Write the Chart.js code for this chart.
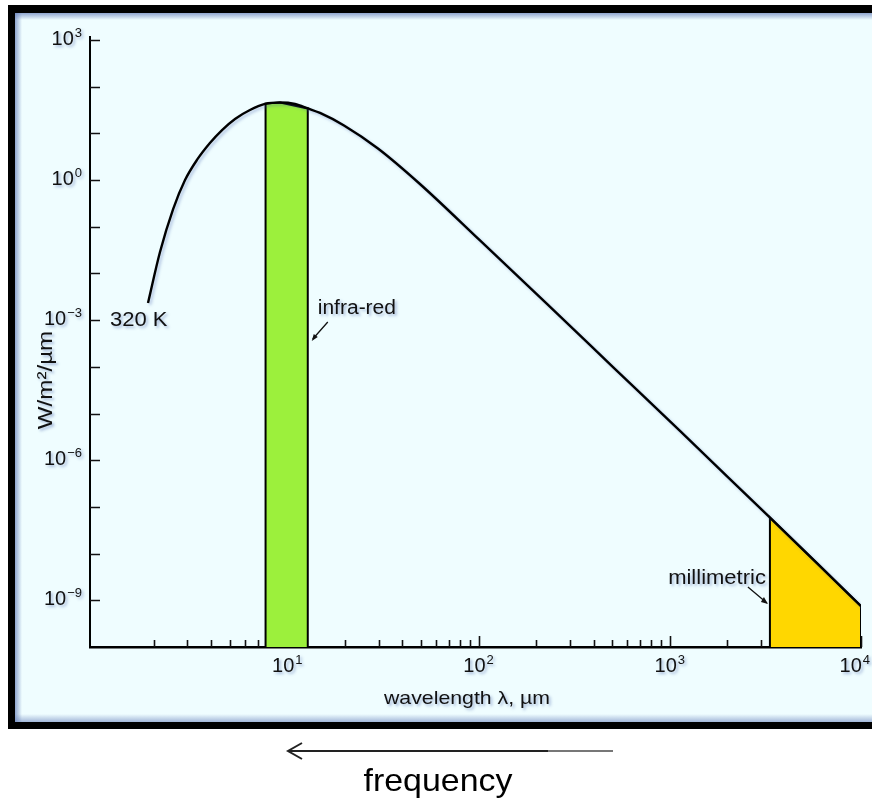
<!DOCTYPE html>
<html lang="en">
<head>
<meta charset="UTF-8">
<title>320 K blackbody spectrum</title>
<script src="https://cdn.jsdelivr.net/npm/chart.js"></script>
<style>
  html, body { margin: 0; padding: 0; background: #fff; }
  #spectrum { display: block; }
</style>
</head>
<body>
<canvas id="spectrum" width="872" height="802"></canvas>
<script>
// spectral exitance of a 320 K body
// wavelength in µm, exitance in W/m²/µm
const wavelength = [1.87, 2.16, 2.53, 2.92, 3.37, 3.94, 4.56, 5.33, 6.38, 7.64, 9.16, 10.97, 12.83,
                    14.83, 19.8, 29.8, 49.4, 101.8, 228, 505, 1131, 2064, 3262, 5885, 10000];
const exitance = [2.33e-3, 0.0288, 0.240, 1.005, 2.70, 6.23, 11.8, 20.4, 31.7, 42.7, 45.9, 42.7, 34.2,
                  27.4, 14.8, 4.75, 0.825, 0.0509, 2.22e-3, 9.9e-5, 4.23e-6, 3.96e-7, 6.49e-8, 6.24e-9, 7.5e-10];

// shaded bands, outline runs up the left edge, along the curve, down the right edge
const irWavelength = [7.7, 7.7, 9.16, 12.8, 12.8];
const irExitance = [1e-10, 43.5, 45.9, 34.3, 1e-10];
const mmWavelength = [3340, 3340, 5885, 10000, 10000];
const mmExitance = [1e-10, 5.9e-8, 6.24e-9, 7.5e-10, 1e-10];

// decades that carry a label
const xLabelExp = [1, 2, 3, 4];
const yLabelExp = [3, 0, -3, -6, -9];

const FONT = '"Liberation Sans", Arial, sans-serif';

function pts(xs, ys) {
    return xs.map((x, i) => ({ x: x, y: ys[i] }));
}

function shadowOn(ctx) {
    ctx.shadowColor = 'rgba(70, 100, 170, 0.45)';
    ctx.shadowBlur = 3;
    ctx.shadowOffsetX = 2;
    ctx.shadowOffsetY = 2;
}

function text(ctx, str, x, y, size, align, sx) {
    ctx.save();
    ctx.font = size + 'px ' + FONT;
    ctx.fillStyle = '#111';
    ctx.textAlign = align;
    ctx.textBaseline = 'alphabetic';
    shadowOn(ctx);
    ctx.translate(x, y);
    ctx.scale(sx || 1, 1);
    ctx.fillText(str, 0, 0);
    ctx.restore();
}

// "10" with a raised exponent
function power(ctx, exp, x, y, align, maxRight) {
    const e = exp < 0 ? '\u2212' + (-exp) : String(exp);
    ctx.save();
    ctx.fillStyle = '#111';
    shadowOn(ctx);
    ctx.font = '20px ' + FONT;
    const w1 = ctx.measureText('10').width;
    ctx.font = '13px ' + FONT;
    const w2 = ctx.measureText(e).width;
    const total = w1 + 1 + w2;
    let left = align === 'right' ? x - total : x - total / 2;
    if (maxRight && left + total > maxRight) left = maxRight - total;
    ctx.textAlign = 'left';
    ctx.font = '20px ' + FONT;
    ctx.fillText('10', left, y);
    ctx.font = '13px ' + FONT;
    ctx.fillText(e, left + w1 + 1, y - 8);
    ctx.restore();
}

const frame = {
    id: 'frame',
    beforeDraw(chart) {
        const ctx = chart.ctx;
        ctx.save();
        ctx.fillStyle = '#fff';
        ctx.fillRect(0, 0, chart.width, chart.height);
        ctx.fillStyle = '#000';
        ctx.fillRect(8, 5, 880, 724);
        ctx.fillStyle = '#effdff';
        ctx.fillRect(15, 13, 880, 709);
        // soft inner shading along the border
        let g = ctx.createLinearGradient(15, 0, 22, 0);
        g.addColorStop(0, 'rgba(110, 135, 190, 0.75)');
        g.addColorStop(1, 'rgba(110, 135, 190, 0)');
        ctx.fillStyle = g;
        ctx.fillRect(15, 13, 7, 709);
        g = ctx.createLinearGradient(0, 13, 0, 20);
        g.addColorStop(0, 'rgba(110, 135, 190, 0.75)');
        g.addColorStop(1, 'rgba(110, 135, 190, 0)');
        ctx.fillStyle = g;
        ctx.fillRect(15, 13, 880, 7);
        g = ctx.createLinearGradient(0, 714, 0, 722);
        g.addColorStop(0, 'rgba(110, 135, 190, 0)');
        g.addColorStop(1, 'rgba(110, 135, 190, 0.6)');
        ctx.fillStyle = g;
        ctx.fillRect(15, 714, 880, 8);
        ctx.restore();
    },
    beforeDatasetsDraw(chart) {
        // tick marks pointing into the plot, drawn under the bands
        const ctx = chart.ctx;
        const xs = chart.scales.x, ys = chart.scales.y;
        const a = chart.chartArea;
        ctx.save();
        ctx.strokeStyle = '#111';
        ctx.lineWidth = 1.6;
        ctx.beginPath();
        xs.ticks.forEach(t => {
            const px = Math.round(xs.getPixelForValue(t.value)) + 0.5;
            const major = Math.abs(Math.log10(t.value) - Math.round(Math.log10(t.value))) < 1e-6;
            ctx.moveTo(px, a.bottom);
            ctx.lineTo(px, a.bottom - (major ? 11 : 7));
        });
        ys.ticks.forEach(t => {
            const py = Math.round(ys.getPixelForValue(t.value)) + 0.5;
            if (py > a.bottom - 3) return;
            ctx.moveTo(a.left, py);
            ctx.lineTo(a.left + 10, py);
        });
        ctx.stroke();
        ctx.restore();
    },
    beforeDatasetDraw(chart, args) {
        if (args.index === 0) {
            chart.ctx.save();
            chart.ctx.shadowColor = 'rgba(60, 90, 170, 0.35)';
            chart.ctx.shadowBlur = 3;
            chart.ctx.shadowOffsetX = 2;
            chart.ctx.shadowOffsetY = 2;
        }
    },
    afterDatasetDraw(chart, args) {
        if (args.index === 0) chart.ctx.restore();
    },
    afterDraw(chart) {
        const ctx = chart.ctx;
        const xs = chart.scales.x, ys = chart.scales.y;
        const a = chart.chartArea;

        yLabelExp.forEach(e => {
            power(ctx, e, a.left - 8, ys.getPixelForValue(Math.pow(10, e)) + 5, 'right');
        });
        xLabelExp.forEach(e => {
            power(ctx, e, xs.getPixelForValue(Math.pow(10, e)), a.bottom + 25, 'center', 870);
        });

        text(ctx, 'wavelength \u03bb, \u00b5m', 467, 704, 19, 'center', 1.12);
        ctx.save();
        ctx.translate(52, 380);
        ctx.rotate(-Math.PI / 2);
        text(ctx, 'W/m\u00b2/\u00b5m', 0, 0, 21, 'center', 1.15);
        ctx.restore();

        // annotations next to the curve and the bands
        text(ctx, '320 K', 110, 326, 20, 'left', 1.1);
        const irRight = xs.getPixelForValue(irWavelength[3]);
        text(ctx, 'infra-red', irRight + 10, 314, 20, 'left', 1.05);
        const mmLeft = xs.getPixelForValue(mmWavelength[0]);
        text(ctx, 'millimetric', mmLeft - 4, 584, 20, 'right', 1.1);

        ctx.save();
        ctx.strokeStyle = '#111';
        ctx.fillStyle = '#111';
        ctx.lineWidth = 1.3;
        ctx.beginPath();
        ctx.moveTo(irRight + 20, 322);
        ctx.lineTo(irRight + 5, 339);
        ctx.moveTo(mmLeft - 22, 587);
        ctx.lineTo(mmLeft - 3, 603);
        ctx.stroke();
        ctx.beginPath();
        ctx.moveTo(irRight + 4, 341);
        ctx.lineTo(irRight + 6, 334);
        ctx.lineTo(irRight + 10, 337);
        ctx.fill();
        ctx.beginPath();
        ctx.moveTo(mmLeft - 2, 604);
        ctx.lineTo(mmLeft - 9, 602);
        ctx.lineTo(mmLeft - 6, 597);
        ctx.fill();
        ctx.restore();

        // frequency arrow under the frame
        ctx.save();
        ctx.lineWidth = 2;
        ctx.strokeStyle = '#222';
        ctx.beginPath();
        ctx.moveTo(288, 751);
        ctx.lineTo(548, 751);
        ctx.stroke();
        ctx.strokeStyle = '#777';
        ctx.beginPath();
        ctx.moveTo(548, 751);
        ctx.lineTo(613, 751);
        ctx.stroke();
        ctx.strokeStyle = '#222';
        ctx.beginPath();
        ctx.moveTo(302, 743);
        ctx.lineTo(288, 751);
        ctx.lineTo(302, 759);
        ctx.stroke();
        ctx.restore();
        ctx.save();
        ctx.font = '32px ' + FONT;
        ctx.fillStyle = '#000';
        ctx.textAlign = 'center';
        ctx.translate(438, 791);
        ctx.scale(1.06, 1);
        ctx.fillText('frequency', 0, 0);
        ctx.restore();
    }
};

const ctx = document.getElementById('spectrum').getContext('2d');
new Chart(ctx, {
    type: 'line',
    data: {
        datasets: [{
            data: pts(wavelength, exitance),
            borderColor: '#000',
            borderWidth: 2.4,
            pointRadius: 0,
            cubicInterpolationMode: 'monotone',
            fill: false
        }, {
            data: pts(irWavelength, irExitance),
            borderColor: '#000',
            borderWidth: 2,
            backgroundColor: '#9cf03c',
            pointRadius: 0,
            tension: 0,
            fill: 'start'
        }, {
            data: pts(mmWavelength, mmExitance),
            borderColor: '#000',
            borderWidth: 2,
            backgroundColor: '#ffd700',
            pointRadius: 0,
            tension: 0,
            fill: 'start'
        }]
    },
    options: {
        responsive: false,
        animation: false,
        layout: { padding: { left: 0, top: 37, right: 11, bottom: 95 } },
        plugins: { legend: { display: false }, tooltip: { enabled: false } },
        scales: {
            x: {
                type: 'logarithmic',
                min: 0.93,
                max: 10000,
                grid: { display: false },
                border: { color: '#000', width: 2.5 },
                ticks: { display: false },
                afterBuildTicks: axis => {
                    const t = [];
                    for (let d = 1; d <= 1000; d *= 10) {
                        for (let m = 2; m <= 10; m++) t.push({ value: m * d });
                    }
                    axis.ticks = t;
                },
                afterFit: axis => { axis.height = 60; }
            },
            y: {
                type: 'logarithmic',
                min: 1e-10,
                max: 1160,
                grid: { display: false },
                border: { color: '#000', width: 2 },
                ticks: { display: false },
                afterBuildTicks: axis => {
                    const t = [];
                    for (let e = -10; e <= 3; e++) t.push({ value: Math.pow(10, e) });
                    axis.ticks = t;
                },
                afterFit: axis => { axis.width = 90; }
            }
        }
    },
    plugins: [frame]
});
</script>
</body>
</html>
